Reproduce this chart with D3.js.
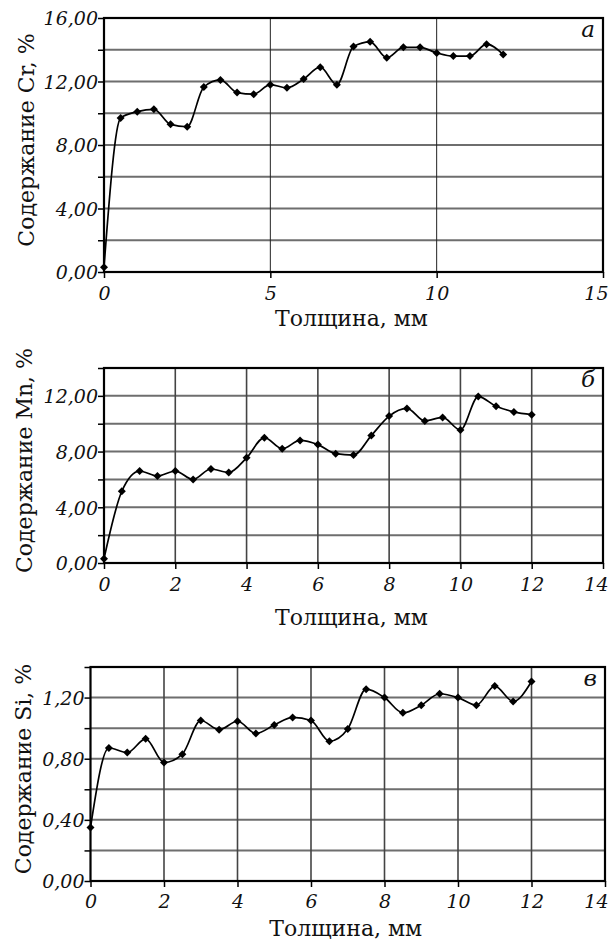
<!DOCTYPE html>
<html>
<head>
<meta charset="utf-8">
<script src="https://cdn.jsdelivr.net/npm/d3@7"></script>
<style>
  body { margin: 0; background: #fff; }
  svg text { font-family: "DejaVu Serif", serif; fill: #111; }
</style>
</head>
<body>
<div id="chart"></div>
<script>
"use strict";

// thickness, mm (same for all three profiles)
const thickness = [0, 0.5, 1, 1.5, 2, 2.5, 3, 3.5, 4, 4.5, 5, 5.5, 6,
                   6.5, 7, 7.5, 8, 8.5, 9, 9.5, 10, 10.5, 11, 11.5, 12];

// Cr, %
const crValues = [0.3, 9.7, 10.1, 10.25, 9.3, 9.15, 11.65, 12.1, 11.3, 11.2, 11.8, 11.6, 12.15,
                  12.9, 11.8, 14.2, 14.5, 13.5, 14.15, 14.15, 13.8, 13.6, 13.6, 14.35, 13.7];
// Mn, %
const mnValues = [0.3, 5.15, 6.6, 6.25, 6.6, 6.0, 6.75, 6.5, 7.55, 9.0, 8.2, 8.8, 8.5,
                  7.85, 7.75, 9.15, 10.55, 11.1, 10.2, 10.45, 9.55, 11.95, 11.25, 10.85, 10.65];
// Si, %
const siValues = [0.35, 0.87, 0.84, 0.93, 0.775, 0.83, 1.05, 0.99, 1.045, 0.965, 1.02, 1.07, 1.05,
                  0.915, 0.995, 1.255, 1.2, 1.1, 1.15, 1.225, 1.2, 1.15, 1.275, 1.175, 1.305];

const crXTicks = [0, 5, 10, 15];
const crYTicks = [0, 4, 8, 12, 16];
const crYGrid = [2, 4, 6, 8, 10, 12, 14];
const crYMarks = [0, 2, 4, 6, 8, 10, 12, 14, 16];

const mnXTicks = [0, 2, 4, 6, 8, 10, 12, 14];
const mnYTicks = [0, 4, 8, 12];
const mnYGrid = [2, 4, 6, 8, 10, 12];
const mnYMarks = [0, 2, 4, 6, 8, 10, 12, 14];

const siXTicks = [0, 2, 4, 6, 8, 10, 12, 14];
const siYTicks = [0, 0.4, 0.8, 1.2];
const siYGrid = [0.2, 0.4, 0.6, 0.8, 1.0, 1.2];
const siYMarks = [0, 0.2, 0.4, 0.6, 0.8, 1.0, 1.2, 1.4];

const xTitle = 'Толщина, мм';

(function () {
  let width = 611, height = 940;

  let svg = d3.select('#chart').append('svg')
    .attr('width', width)
    .attr('height', height);

  let fmt = function (d) {
    return d3.format('.2f')(d).replace('.', ',');
  };

  drawPanel({
    values: crValues, xDomain: [0, 15], yDomain: [0, 16],
    xTicks: crXTicks, yTicks: crYTicks, yGrid: crYGrid, yMarks: crYMarks,
    left: 104, right: 603, top: 18, bottom: 272,
    tickY: 300, titleY: 326, yTitleX: 34,
    yTitle: 'Содержание Cr, %', letter: 'а', vGridColor: '#222', vGridWidth: 1
  });

  drawPanel({
    values: mnValues, xDomain: [0, 14], yDomain: [0, 14],
    xTicks: mnXTicks, yTicks: mnYTicks, yGrid: mnYGrid, yMarks: mnYMarks,
    left: 104, right: 603, top: 368, bottom: 563,
    tickY: 591, titleY: 625, yTitleX: 32,
    yTitle: 'Содержание Mn, %', letter: 'б', vGridColor: '#444', vGridWidth: 1.6
  });

  drawPanel({
    values: siValues, xDomain: [0, 14], yDomain: [0, 1.4],
    xTicks: siXTicks, yTicks: siYTicks, yGrid: siYGrid, yMarks: siYMarks,
    left: 90.5, right: 605, top: 667, bottom: 881,
    tickY: 908, titleY: 936, yTitleX: 31,
    yTitle: 'Содержание Si, %', letter: 'в', vGridColor: '#444', vGridWidth: 1.6
  });

  function drawPanel(p) {
    let g = svg.append('g');

    let x = d3.scaleLinear().domain(p.xDomain).range([p.left, p.right]);
    let y = d3.scaleLinear().domain(p.yDomain).range([p.bottom, p.top]);

    // horizontal grid
    g.selectAll('line.hgrid')
      .data(p.yGrid)
      .enter()
      .append('line')
      .attr('class', 'hgrid')
      .attr('x1', p.left).attr('x2', p.right)
      .attr('y1', d => y(d)).attr('y2', d => y(d))
      .style('stroke', '#555')
      .style('stroke-width', 2)
      .style('opacity', 0.85);

    // vertical grid (inner ticks only)
    let inner = p.xTicks.filter(d => d > p.xDomain[0] && d < p.xDomain[1]);
    g.selectAll('line.vgrid')
      .data(inner)
      .enter()
      .append('line')
      .attr('class', 'vgrid')
      .attr('x1', d => x(d)).attr('x2', d => x(d))
      .attr('y1', p.top).attr('y2', p.bottom)
      .style('stroke', p.vGridColor)
      .style('stroke-width', p.vGridWidth);

    // frame
    g.append('rect')
      .attr('x', p.left).attr('y', p.top)
      .attr('width', p.right - p.left)
      .attr('height', p.bottom - p.top)
      .style('fill', 'none')
      .style('stroke', '#000')
      .style('stroke-width', 2.2);

    // x axis
    let xAxis = d3.axisBottom(x).tickValues(p.xTicks).tickSize(6).tickFormat(d3.format('d'));
    let gx = g.append('g')
      .attr('transform', 'translate(0,' + p.bottom + ')')
      .call(xAxis);
    gx.select('.domain').remove();
    gx.selectAll('.tick line').style('stroke', '#000').style('stroke-width', 1.5);
    gx.selectAll('.tick text')
      .attr('y', p.tickY - p.bottom)
      .attr('dy', null)
      .style('font-size', '19px')
      .style('font-style', 'italic')
      .style('font-family', '"DejaVu Serif", serif')
      .style('fill', '#111');
    // last label sits against the page edge
    gx.selectAll('.tick text')
      .filter(d => d === p.xDomain[1])
      .attr('text-anchor', 'end')
      .attr('x', width - 3 - x(p.xDomain[1]));

    // y axis: ticks on every gridline, labels on major ones
    let yAxis = d3.axisLeft(y).tickValues(p.yMarks).tickSize(6)
      .tickFormat(d => p.yTicks.some(t => Math.abs(t - d) < 1e-9) ? fmt(d) : '');
    let gy = g.append('g')
      .attr('transform', 'translate(' + p.left + ',0)')
      .call(yAxis);
    gy.select('.domain').remove();
    gy.selectAll('.tick line').style('stroke', '#000').style('stroke-width', 1.5);
    gy.selectAll('.tick text')
      .attr('x', -6)
      .attr('dy', '0.36em')
      .style('font-size', '19px')
      .style('font-style', 'italic')
      .style('font-family', '"DejaVu Serif", serif')
      .style('fill', '#111');

    // line
    let line = d3.line()
      .x((d, i) => x(thickness[i]))
      .y(d => y(d))
      .curve(d3.curveMonotoneX);

    g.append('path')
      .datum(p.values)
      .attr('d', line)
      .style('fill', 'none')
      .style('stroke', '#000')
      .style('stroke-width', 1.7);

    // diamond markers
    g.selectAll('path.point')
      .data(p.values)
      .enter()
      .append('path')
      .attr('class', 'point')
      .attr('d', d3.symbol(d3.symbolSquare, 32))
      .attr('transform', (d, i) => 'translate(' + x(thickness[i]) + ',' + y(d) + ') rotate(45)')
      .style('fill', '#000');

    // titles
    g.append('text')
      .attr('x', (p.left + p.right) / 2 - 2)
      .attr('y', p.titleY)
      .attr('text-anchor', 'middle')
      .style('font-size', '22px')
      .text(xTitle);

    g.append('text')
      .attr('transform', 'translate(' + p.yTitleX + ',' + ((p.top + p.bottom) / 2 - 5) + ') rotate(-90)')
      .attr('text-anchor', 'middle')
      .style('font-size', '22px')
      .text(p.yTitle);

    g.append('text')
      .attr('x', p.right - 8)
      .attr('y', p.top + 19)
      .attr('text-anchor', 'end')
      .style('font-size', '23px')
      .style('font-style', 'italic')
      .text(p.letter);
  }
})();
</script>
</body>
</html>
